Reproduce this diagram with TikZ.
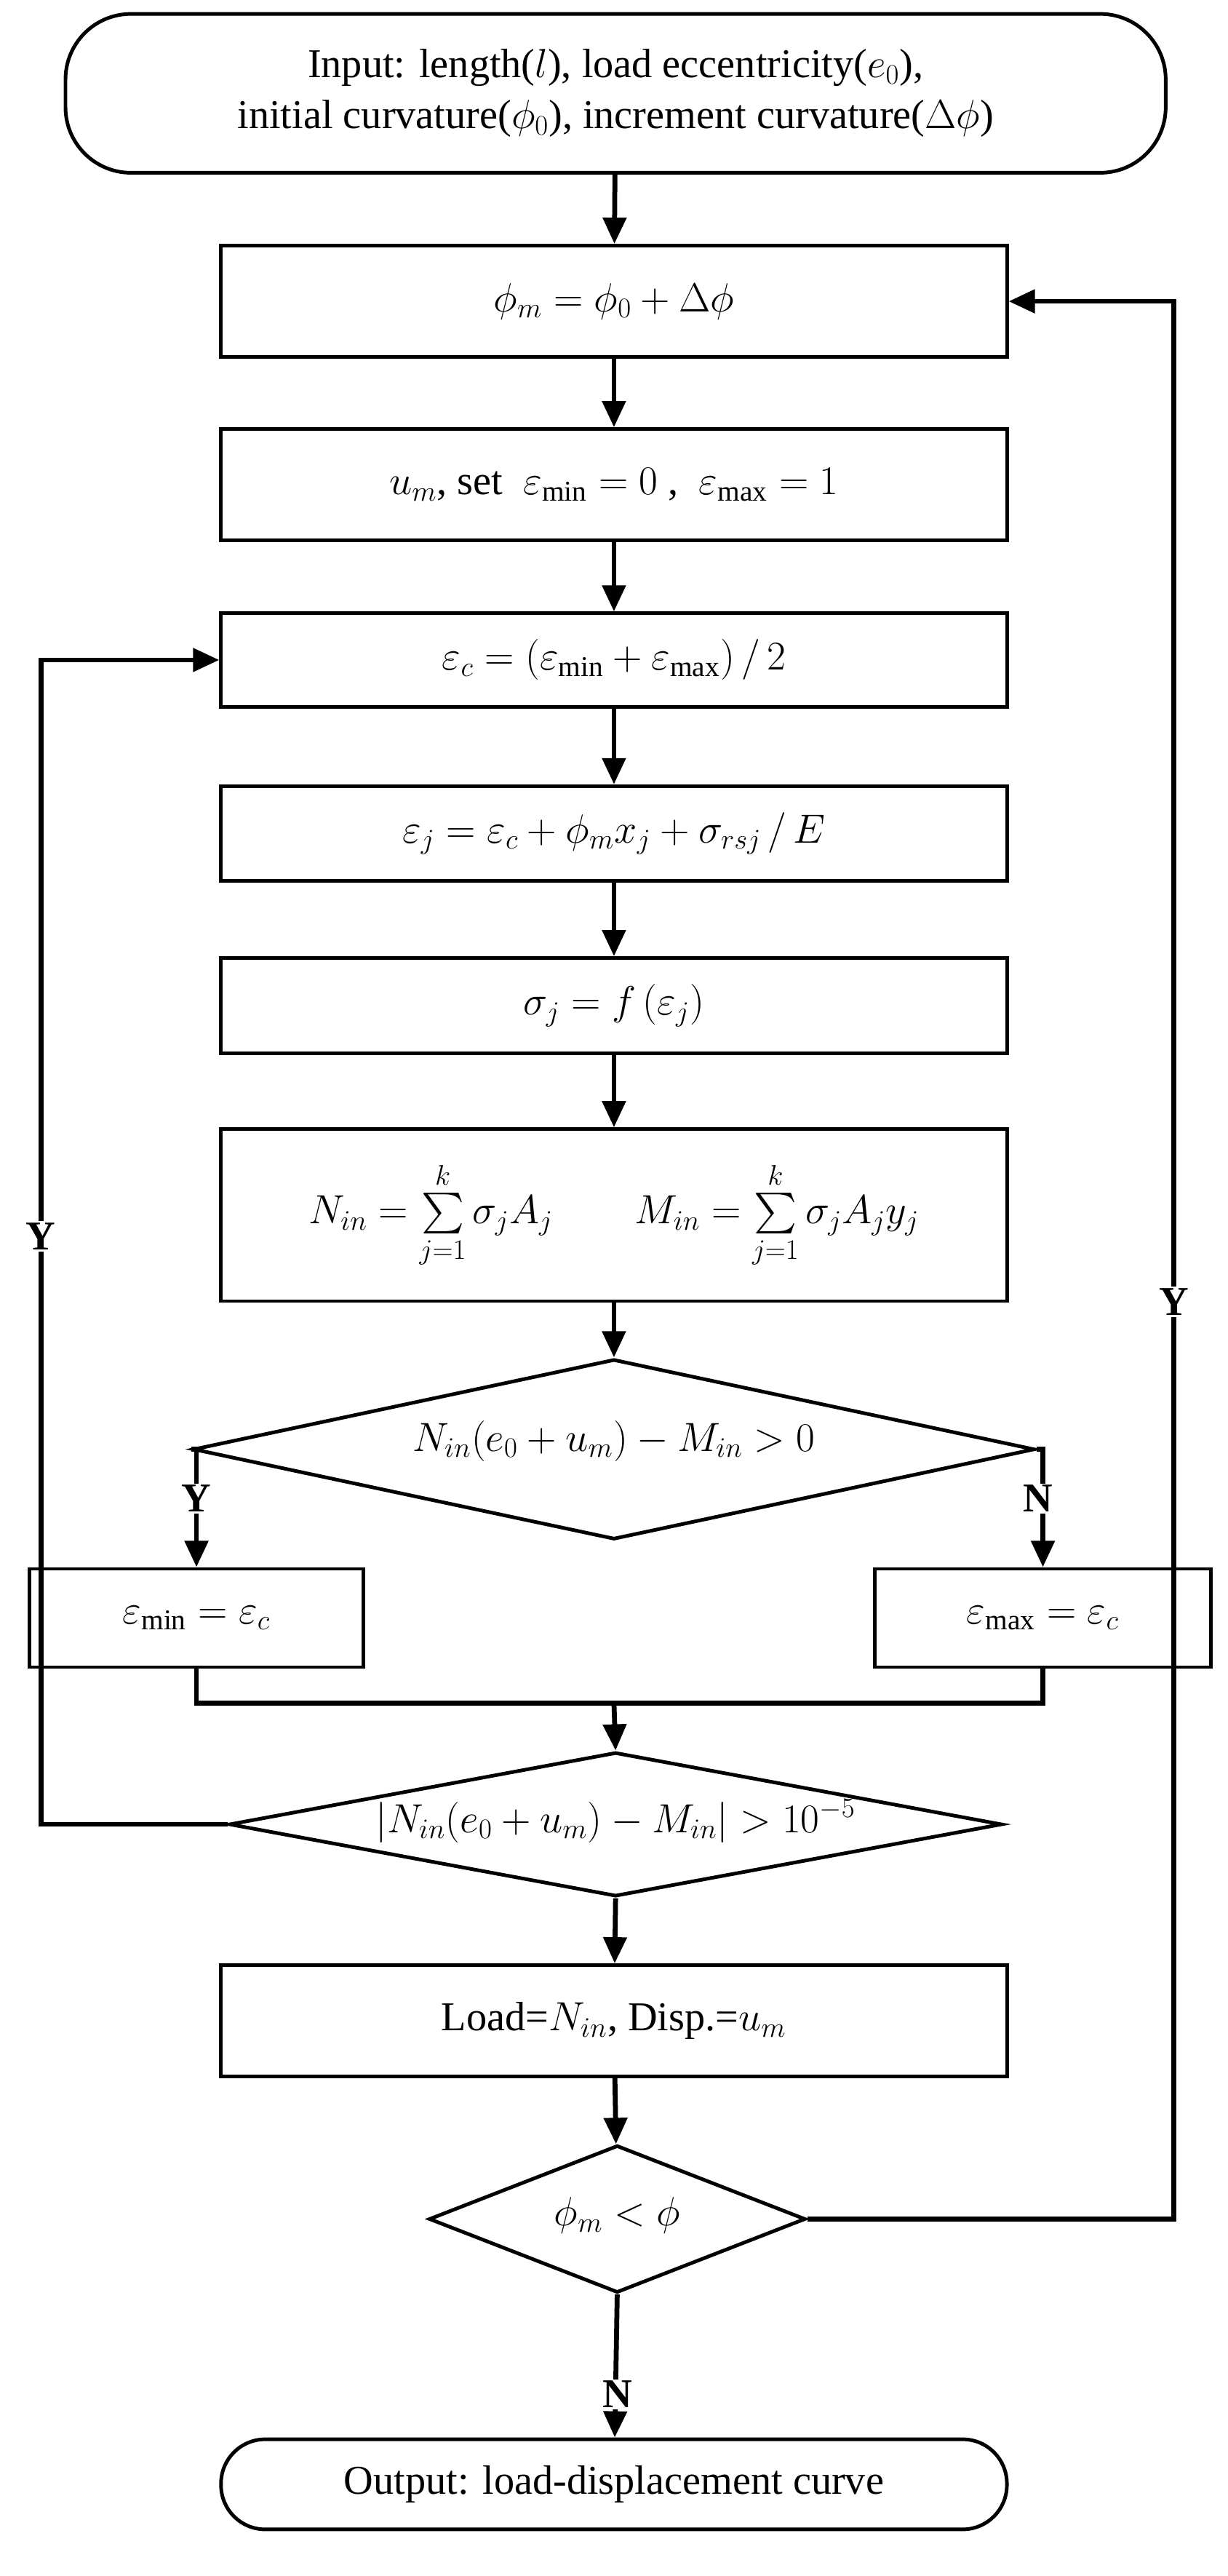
\documentclass[tikz,border=0pt]{standalone}
\usepackage{amsmath}
\usepackage{fontspec}
\setmainfont{Liberation Serif}
\usetikzlibrary{shapes.geometric,arrows.meta}
\begin{document}
\begin{tikzpicture}[x=1pt,y=-1pt,
  every node/.style={font=\fontsize{25}{31}\selectfont},
  box/.style={draw,line width=2.2pt,minimum width=480pt,inner sep=0pt,align=center},
  dia/.style={draw,diamond,line width=2.2pt,inner sep=0pt},
  lab/.style={font=\fontsize{25}{30}\selectfont\bfseries,fill=white,inner sep=1pt},
  ln/.style={line width=3pt},
  arr/.style={line width=3pt,-{Triangle[length=16pt,width=14pt]}}]
\useasboundingbox (0,0) rectangle (750,1573);
\node[box,rounded corners=40pt,minimum width=672pt,minimum height=97pt] (in) at (376,57)
 {Input: length($l$), load eccentricity($e_0$),\\ initial curvature($\phi_0$), increment curvature($\Delta\phi$)};
\node[box,minimum height=68pt] (b1) at (375,184) {$\phi_m=\phi_0+\Delta\phi$};
\node[box,minimum height=68pt] (b2) at (375,296) {$u_m$, set\ \ $\varepsilon_{\min}=0$\ ,\ \ $\varepsilon_{\max}=1$};
\node[box,minimum height=57pt] (b3) at (375,403) {$\varepsilon_c=(\varepsilon_{\min}+\varepsilon_{\max})\,/\,2$};
\node[box,minimum height=58pt] (b4) at (375,509) {$\varepsilon_j=\varepsilon_c+\phi_m x_j+\sigma_{rsj}\,/\,E$};
\node[box,minimum height=58pt] (b5) at (375,614) {$\sigma_j=f\left(\varepsilon_j\right)$};
\node[box,minimum height=105pt] (b6) at (375,742) {$N_{in}=\sum\limits_{j=1}^{k}\sigma_jA_j\qquad M_{in}=\sum\limits_{j=1}^{k}\sigma_jA_jy_j$};
\node[dia,minimum width=514pt,minimum height=110pt] (d1) at (375,885) {};
\node at (375,880) {$N_{in}(e_0+u_m)-M_{in}>0$};
\node[box,minimum width=204pt,minimum height=60pt] (emin) at (120,988) {$\varepsilon_{\min}=\varepsilon_c$};
\node[box,minimum width=205pt,minimum height=60pt] (emax) at (637,988) {$\varepsilon_{\max}=\varepsilon_c$};
\node[dia,minimum width=472pt,minimum height=88pt] (d2) at (376,1114) {};
\node at (376,1112) {$\left|N_{in}(e_0+u_m)-M_{in}\right|>10^{-5}$};
\node[box,minimum height=68pt] (ld) at (375,1234) {Load=$N_{in}$, Disp.=$u_m$};
\node[dia,minimum width=230pt,minimum height=90pt] (d3) at (377,1355) {};
\node at (377,1353) {$\phi_m<\phi$};
\node[box,rounded corners=27pt,minimum height=55pt] (out) at (375,1517) {Output: load-displacement curve};
\coordinate (c1) at (120,885); \coordinate (c2) at (637,885);
\coordinate (m1) at (120,1040); \coordinate (m2) at (637,1040); \coordinate (mm) at (375,1040);
\coordinate (l1) at (25,1114); \coordinate (l2) at (25,403);
\coordinate (r1) at (717,1355); \coordinate (r2) at (717,184);
\draw[arr] (in) -- (b1); \draw[arr] (b1) -- (b2); \draw[arr] (b2) -- (b3);
\draw[arr] (b3) -- (b4); \draw[arr] (b4) -- (b5); \draw[arr] (b5) -- (b6);
\draw[arr] (b6) -- (d1);
\draw[arr] (d1.west) -- (c1) -- (emin.north);
\draw[arr] (d1.east) -- (c2) -- (emax.north);
\draw[ln] (emin.south) -- (m1) -- (m2) -- (emax.south);
\draw[arr] (mm) -- (d2.north);
\draw[arr] (d2.west) -- (l1) -- (l2) -- (b3.west);
\draw[arr] (d2.south) -- (ld);
\draw[arr] (ld) -- (d3);
\draw[arr] (d3.east) -- (r1) -- (r2) -- (b1.east);
\draw[arr] (d3.south) -- (out);
\node[lab] at (120,915) {Y};
\node[lab] at (634,915) {N};
\node[lab] at (25,755) {Y};
\node[lab] at (717,795) {Y};
\node[lab] at (377,1462) {N};
\end{tikzpicture}
\end{document}
